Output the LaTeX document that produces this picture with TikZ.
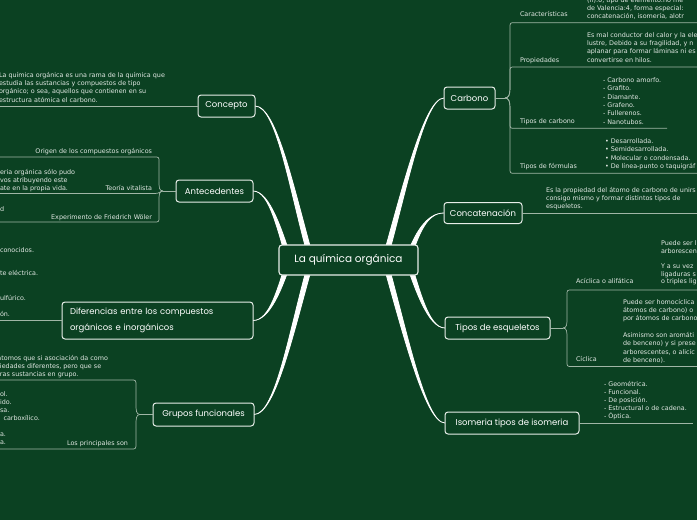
\documentclass[tikz,border=0pt]{standalone}
\usepackage{fontspec}
\setmainfont{DejaVu Sans}
\newfontfamily\handfont{Poppins}
\usetikzlibrary{calc}
\pgfdeclarelayer{bottom}
\pgfdeclarelayer{back}
\pgfsetlayers{bottom,back,main}
\definecolor{bg}{RGB}{11,65,34}
\definecolor{boxline}{RGB}{232,238,233}
\definecolor{thin}{RGB}{160,182,166}
\definecolor{txt}{RGB}{225,232,227}
\newcommand\fs{\rule{0pt}{6pt}}
\newcommand\branch[4]{\filldraw[conn] (#1) .. controls +#2 and +#4 .. ([shift={#3},xshift=-2.5pt]root.center) -- ([shift={#3},xshift=2.5pt]root.center) .. controls +#4 and +#2 .. (#1);}
\begin{document}
\begin{tikzpicture}[x=1pt,y=-1pt,
  every node/.style={inner sep=0pt, outer sep=0pt},
  topic/.style={draw=boxline, line width=1pt, rounded corners=3pt, fill=bg, text=white, font=\handfont\fontsize{8.5}{10}\selectfont},
  roottopic/.style={topic, line width=1.1pt, font=\handfont\fontsize{10.5}{12}\selectfont},
  note/.style={anchor=north west, align=left, text=txt, font=\fontsize{6.4}{8.3}\selectfont},
  noter/.style={note, anchor=north east, align=right},
  thinline/.style={draw=thin, line width=0.7pt},
  conn/.style={fill=white, draw=white, line width=0.8pt}]
\begin{pgfonlayer}{bottom}
\fill[bg] (0,0) rectangle (697,520);
\end{pgfonlayer}
\useasboundingbox (0,0) rectangle (697,520);

% main topics
\node[roottopic, minimum width=139pt, minimum height=30pt] (root) at (348.5,260) {La química orgánica};
\node[topic, minimum width=57pt, minimum height=22pt] (concepto) at (226.5,106) {Concepto};
\node[topic, minimum width=77pt, minimum height=22pt] (antec) at (214.5,191) {Antecedentes};
\node[topic, minimum width=191pt, minimum height=37pt, align=left, text width=175pt, font=\handfont\fontsize{8.5}{16.5}\selectfont] (difer) at (157.5,320.5) {Diferencias entre los compuestos\\orgánicos e inorgánicos};
\node[topic, minimum width=101pt, minimum height=23pt] (grupos) at (203.5,414.5) {Grupos funcionales};
\node[topic, minimum width=51pt, minimum height=22pt] (carbono) at (469.5,98) {Carbono};
\node[topic, minimum width=78pt, minimum height=21pt] (concat) at (483,213) {Concatenación};
\node[topic, minimum width=105pt, minimum height=22pt] (esque) at (497.5,328) {Tipos de esqueletos};
\node[topic, minimum width=134pt, minimum height=22pt] (isom) at (512,423) {Isomeria tipos de isomeria};

\begin{pgfonlayer}{back}
\branch{concepto.east}{(22,0)}{(-36.5,2)}{(-20,-70)}
\branch{antec.east}{(17,0)}{(-58.5,2)}{(-10,-30)}
\branch{difer.east}{(17,0)}{(-58.5,-2)}{(-10,30)}
\branch{grupos.east}{(22,0)}{(-36.5,-2)}{(-20,70)}
\branch{carbono.west}{(-20,0)}{(35.5,2)}{(20,-70)}
\branch{concat.west}{(-17,0)}{(58.5,2)}{(10,-30)}
\branch{esque.west}{(-17,0)}{(58.5,-2)}{(10,30)}
\branch{isom.west}{(-20,0)}{(35.5,-2)}{(20,70)}
\end{pgfonlayer}

% ---------- Concepto
\draw[thinline] (concepto.west) -- (0,106);
\node[note] (nConc) at (-1,71.3) {\fs La química orgánica es una rama de la química que\\estudia las sustancias y compuestos de tipo\\orgánico; o sea, aquellos que contienen en su\\estructura atómica el carbono.};

% ---------- Antecedentes
\coordinate (jA) at (163,191);
\draw[thinline] (antec.west) -- (jA);
\draw[thinline] (jA) .. controls +(-4,0) and +(0,6) .. (159,181) -- (159,162) .. controls (159,157) .. (154,157) -- (0,157);
\draw[thinline] (jA) .. controls (160,191) and (160,193.5) .. (155,193.5) -- (0,193.5);
\draw[thinline] (jA) .. controls +(-4,0) and +(0,-6) .. (159,201) -- (159,217) .. controls (159,222) .. (154,222) -- (0,222);
\node[noter] (lOrig) at (152,147.3) {\fs Origen de los compuestos orgánicos};
\node[note] (nVit) at (0,168.3) {\fs eria orgánica sólo pudo\\vos atribuyendo este\\ate en la propia vida.};
\node[noter] (lVit) at (152,184.6) {\fs Teoría vitalista};
\node[note] (nExp) at (0,205) {\fs d};
\node[noter] (lExp) at (152,213.3) {\fs Experimento de Friedrich Wöler};

% ---------- Diferencias
\draw[thinline] (difer.west) -- (0,320.5);
\node[note] (nD1) at (0,246.3) {\fs conocidos.};
\node[note] (nD2) at (0,269.6) {\fs te eléctrica.};
\node[note] (nD3) at (0,294) {\fs ulfúrico.};
\node[note] (nD4) at (0,310.6) {\fs ón.};

% ---------- Grupos funcionales
\coordinate (jG) at (140,414.5);
\draw[thinline] (grupos.west) -- (jG);
\draw[thinline] (jG) .. controls +(-4,0) and +(0,6) .. (136,404) -- (136,386) .. controls (136,380) .. (131,380) -- (0,380);
\draw[thinline] (jG) .. controls +(-4,0) and +(0,-6) .. (136,425) -- (136,443) .. controls (136,449) .. (131,449) -- (0,449);
\node[note] (nG1) at (0,354) {\fs \hspace*{-2.5pt}átomos que si asociación da como\\iedades diferentes, pero que se\\ras sustancias en grupo.};
\node[note, font=\fontsize{6.4}{8}\selectfont] (nG2) at (0,390.6) {\fs ol.\\ido.\\sa.\\\hspace*{3.5pt}carboxílico.\\[8pt]a.\\a.};
\node[noter] (lG) at (128,439) {\fs Los principales son};

% ---------- Carbono
\coordinate (jC) at (505,98);
\draw[thinline] (carbono.east) -- (jC);
\draw[thinline] (jC) .. controls +(4,0) and +(0,6) .. (510,88) -- (510,28) .. controls (510,22.7) .. (515,22.7) -- (697,22.7);
\draw[thinline] (jC) .. controls +(4,0) and +(0,6) .. (510,88) -- (510,72) .. controls (510,67) .. (515,67) -- (697,67);
\draw[thinline] (jC) .. controls +(4,0) and +(0,-6) .. (510,108) -- (510,123) .. controls (510,128.3) .. (515,128.3) -- (667,128.3);
\draw[thinline] (jC) .. controls +(4,0) and +(0,-6) .. (510,108) -- (510,168) .. controls (510,173.3) .. (515,173.3) -- (697,173.3);
\node[note] (lCar) at (520,10.6) {\fs Características};
\node[note] (nCar) at (587,-4) {\fs (n):6, tipo de elemento:no me\\de Valencia:4, forma especial:\\concatenación, isomería, alotr};
\node[note] (lProp) at (520,56.3) {\fs Propiedades};
\node[note] (nProp) at (587,31.3) {\fs Es mal conductor del calor y la ele\\lustre, Debido a su fragilidad, y n\\aplanar para formar láminas ni es\\convertirse en hilos.};
\node[note] (lTC) at (520,117.3) {\fs Tipos de carbono};
\node[note] (nTC) at (603,76.5) {\fs - Carbono amorfo.\\- Grafito.\\- Diamante.\\- Grafeno.\\- Fullerenos.\\- Nanotubos.};
\node[note] (lTF) at (520,162.3) {\fs Tipos de fórmulas};
\node[note] (nTF) at (605,137.4) {\fs • Desarrollada.\\• Semidesarrollada.\\• Molecular o condensada.\\• De línea-punto o taquigráf};

% ---------- Concatenacion
\draw[thinline] (concat.east) -- (697,213);
\node[note] (nConcat) at (546,186.3) {\fs Es la propiedad del átomo de carbono de unirs\\consigo mismo y formar distintos tipos de\\esqueletos.};

% ---------- Tipos de esqueletos
\coordinate (jE) at (563,328);
\draw[thinline] (esque.east) -- (jE);
\draw[thinline] (jE) .. controls +(4,0) and +(0,6) .. (567,318) -- (567,295) .. controls (567,290) .. (572,290) -- (697,290);
\draw[thinline] (jE) .. controls +(4,0) and +(0,-6) .. (567,338) -- (567,361) .. controls (567,366.5) .. (572,366.5) -- (697,366.5);
\node[note] (lAci) at (576,277.3) {\fs Acíclica o alifática};
\node[note, font=\fontsize{6.4}{7.7}\selectfont] (nAci) at (661,239.4) {\fs Puede ser l\\arborescen\\[7.7pt]Y a su vez\\ligaduras s\\o triples lig};
\node[note] (lCic) at (576,355.6) {\fs Cíclica};
\node[note] (nCic) at (623,298.3) {\fs Puede ser homocíclica\\átomos de carbono) o\\por átomos de carbono\\[8.3pt]Asimismo son aromáti\\de benceno) y si prese\\arborescentes, o alicíc\\de benceno).};

% ---------- Isomeria
\draw[thinline] (isom.east) -- (693,423);
\node[note, font=\fontsize{6.4}{8}\selectfont] (nIso) at (604,380.6) {\fs - Geométrica.\\- Funcional.\\- De posición.\\- Estructural o de cadena.\\- Óptica.};
\end{tikzpicture}
\end{document}
